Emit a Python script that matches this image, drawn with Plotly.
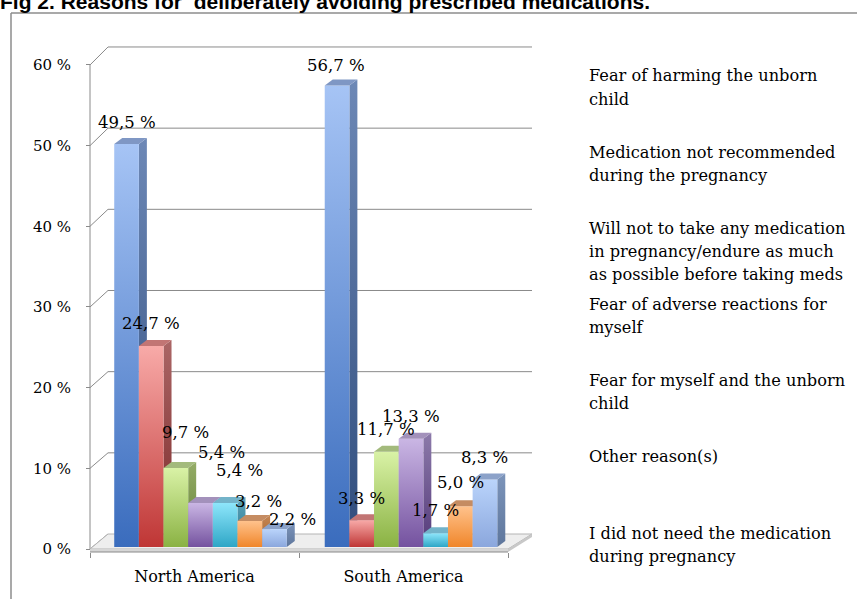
import plotly.graph_objects as go

# ---------------- data ----------------
CATEGORIES = ["North America", "South America"]
SERIES = [
    "Fear of harming the unborn\nchild",
    "Medication not recommended\nduring the pregnancy",
    "Will not to take any medication\nin pregnancy/endure as much\nas possible before taking meds",
    "Fear of adverse reactions for\nmyself",
    "Fear for myself and the unborn\nchild",
    "Other reason(s)",
    "I did not need the medication\nduring pregnancy",
]
NORTH_AMERICA = [49.5, 24.7, 9.7, 5.4, 5.4, 3.2, 2.2]
SOUTH_AMERICA = [56.7, 3.3, 11.7, 13.3, 1.7, 5.0, 8.3]
Y_TICKS = [0, 10, 20, 30, 40, 50, 60]
TITLE = "Fig 2. Reasons for  deliberately avoiding prescribed medications."

# ---------------- styling ----------------
W, H = 857, 599
SERIF = "DejaVu Serif"
GRID = "#8a8a8a"
# (front top, front bottom, side top, side bottom, top face)
PALETTE = [
    ("#a6c4f5", "#3a6cbd", "#6d88b6", "#2f4c7c", "#7f97c4"),
    ("#f8aaa8", "#bf3635", "#ab6666", "#7a2626", "#c27574"),
    ("#d9f2a6", "#8ab243", "#94ac66", "#627f34", "#a3ba7c"),
    ("#cab6e4", "#74529f", "#8c7aaa", "#553a7a", "#a391bb"),
    ("#8ee6fb", "#2ea6c6", "#5ea4ba", "#26768f", "#73b3c9"),
    ("#ffc28c", "#f0862a", "#c48656", "#a9601f", "#c58c62"),
    ("#bad4fb", "#8ba7dd", "#7c94ba", "#5e769c", "#8ca2c9"),
]
# hand-placed data labels (pixel nudges from the default spot above each bar)
LABEL_NUDGE = {
    (0, 2): (10, 14), (0, 3): (21, 29), (0, 4): (14, 11),
    (0, 5): (9, -3), (0, 6): (18, -12), (1, 0): (-1, -2),
    (1, 4): (0, 1), (1, 5): (0, 2),
}

# ---------------- 3-D box geometry (pixel layout) ----------------
BAR_ZERO, BAR_SCALE = 547.0, 8.14          # bar plane: y pixel of 0 %, px per %
GROUP_PX, GROUP_STEP = 200.5, 210.5        # pixel x of first group, px per group
FRONT_ZERO, FRONT_SCALE = 549.0, 8.067     # front (axis) plane
FRONT_LEFT, FRONT_RIGHT = 90.0, 508.0
BACK_ZERO, BACK_SCALE = 534.0, 8.117       # back wall plane
BACK_LEFT, BACK_RIGHT = 108.0, 532.0
BAR_W_PX, DEPTH_X, DEPTH_Y = 24.65, 8.0, 6.0


def xu(px):
    return (px - GROUP_PX) / GROUP_STEP


def yu(py):
    return (BAR_ZERO - py) / BAR_SCALE


def front_y(v):
    return yu(FRONT_ZERO - FRONT_SCALE * v)


def back_y(v):
    return yu(BACK_ZERO - BACK_SCALE * v)


bw = BAR_W_PX / GROUP_STEP
dx = DEPTH_X / GROUP_STEP
dy = DEPTH_Y / BAR_SCALE

fig = go.Figure()


def poly(xs, ys, color=None, grad=None, layer_line=None):
    tr = dict(
        x=list(xs) + [xs[0]], y=list(ys) + [ys[0]], mode="lines", fill="toself",
        line=dict(width=0 if layer_line is None else 1,
                  color=layer_line or "rgba(0,0,0,0)"),
        hoverinfo="skip", showlegend=False,
    )
    if grad is not None:
        tr["fillgradient"] = dict(type="vertical",
                                  colorscale=[[0, grad[1]], [1, grad[0]]])
        tr["fillcolor"] = grad[0]
    else:
        tr["fillcolor"] = color
    fig.add_trace(go.Scatter(**tr))


def seg(xs, ys, color=GRID, width=1):
    fig.add_trace(go.Scatter(x=xs, y=ys, mode="lines",
                             line=dict(color=color, width=width),
                             hoverinfo="skip", showlegend=False))


# back wall gridlines and the depth connectors to the front axis
for v in Y_TICKS:
    if v > 0:
        seg([xu(BACK_LEFT), xu(BACK_RIGHT)], [back_y(v), back_y(v)])
    seg([xu(FRONT_LEFT), xu(BACK_LEFT)], [front_y(v), back_y(v)])
seg([xu(FRONT_LEFT), xu(FRONT_LEFT)], [front_y(0), front_y(Y_TICKS[-1])])

# floor slab
poly([xu(FRONT_LEFT), xu(FRONT_RIGHT), xu(BACK_RIGHT), xu(BACK_LEFT)],
     [front_y(0), front_y(0), back_y(0), back_y(0)], color="#eeeeee",
     layer_line="#b4b4b4")
slab = 3.0 / BAR_SCALE
poly([xu(FRONT_LEFT), xu(FRONT_RIGHT), xu(FRONT_RIGHT), xu(FRONT_LEFT)],
     [front_y(0), front_y(0), front_y(0) - slab, front_y(0) - slab],
     color="#d6d6d6")
poly([xu(FRONT_RIGHT), xu(BACK_RIGHT), xu(BACK_RIGHT), xu(FRONT_RIGHT)],
     [front_y(0), back_y(0), back_y(0) - slab, front_y(0) - slab],
     color="#c8c8c8")
seg([xu(FRONT_LEFT), xu(FRONT_RIGHT)], [front_y(0) - slab] * 2, color=GRID)

# bars: front face, side face and top face per value
for g, values in enumerate([NORTH_AMERICA, SOUTH_AMERICA]):
    for i, v in enumerate(values):
        ft, fb, st, sb, tp = PALETTE[i]
        x0 = g + (i - len(values) / 2) * bw
        x1 = x0 + bw
        poly([x1, x1 + dx, x1 + dx, x1], [0, dy, v + dy, v], grad=(st, sb))
        poly([x0, x1, x1, x0], [0, 0, v, v], grad=(ft, fb))
        poly([x0, x1, x1 + dx, x0 + dx], [v, v, v + dy, v + dy], color=tp)
        nx, ny = LABEL_NUDGE.get((g, i), (0, 0))
        fig.add_annotation(
            x=(x0 + x1) / 2, y=v, xref="x", yref="y", showarrow=False,
            text=f"{v:.1f} %".replace(".", ","), yanchor="middle",
            xshift=nx, yshift=22 + ny,
            font=dict(family=SERIF, size=16.5, color="#000000"),
        )

# invisible anchor for the category axis
fig.add_trace(go.Scatter(x=CATEGORIES, y=[0, 0], xaxis="x2", yaxis="y2",
                         mode="markers", marker=dict(opacity=0),
                         hoverinfo="skip", showlegend=False))

# legend text (no swatches)
LEG_X, LEG_TOP, LEG_STEP, LEG_LINE = 587, 76, 76.2, 23
for i, name in enumerate(SERIES):
    for k, line in enumerate(name.split("\n")):
        py = LEG_TOP + i * LEG_STEP + k * LEG_LINE
        fig.add_annotation(
            x=LEG_X / W, y=1 - py / H, xref="paper", yref="paper",
            xanchor="left", yanchor="middle", showarrow=False, text=line,
            font=dict(family=SERIF, size=16.2, color="#000000"),
        )

# title, running off the top edge
fig.add_annotation(
    x=-2 / W, y=1 - 1.5 / H, xref="paper", yref="paper", xanchor="left",
    yanchor="middle", showarrow=False, text=f"<b>{TITLE}</b>",
    font=dict(family="Liberation Sans Narrow, Liberation Sans, Arial", size=21,
              color="#000000"),
)

# outer frame
FRAME = dict(type="line", xref="paper", yref="paper",
             line=dict(color="#8c8c8c", width=1.5))
fig.add_shape(x0=11 / W, x1=11 / W, y0=0, y1=1 - 13 / H, **FRAME)
fig.add_shape(x0=11 / W, x1=1, y0=1 - 13 / H, y1=1 - 13 / H, **FRAME)

fig.update_layout(
    width=W, height=H, margin=dict(l=0, r=0, t=0, b=0),
    paper_bgcolor="white", plot_bgcolor="white", showlegend=False,
    xaxis=dict(range=[xu(0), xu(W)], visible=False, domain=[0, 1]),
    yaxis=dict(range=[yu(H), yu(0)], visible=False, domain=[0, 1]),
    xaxis2=dict(
        overlaying="x", anchor="free", position=1 - (FRONT_ZERO + 3) / H,
        type="category", categoryarray=CATEGORIES,
        range=[-0.5 - FRONT_LEFT / ((FRONT_RIGHT - FRONT_LEFT) / 2),
               -0.5 + (W - FRONT_LEFT) / ((FRONT_RIGHT - FRONT_LEFT) / 2)],
        tickson="boundaries", ticks="outside", ticklen=5, tickcolor=GRID,
        showgrid=False, zeroline=False, showline=False,
        tickfont=dict(family=SERIF, size=16, color="#000000"),
        ticklabelstandoff=13,
    ),
    yaxis2=dict(
        overlaying="y", anchor="free", position=FRONT_LEFT / W, side="left",
        range=[(FRONT_ZERO - H) / FRONT_SCALE, FRONT_ZERO / FRONT_SCALE],
        tickvals=Y_TICKS, ticktext=[f"{t} %" for t in Y_TICKS],
        ticks="outside", ticklen=4, tickcolor=GRID,
        showgrid=False, zeroline=False, showline=False,
        tickfont=dict(family=SERIF, size=15, color="#000000"),
        ticklabelstandoff=12,
    ),
)

fig.write_html("out.html")
